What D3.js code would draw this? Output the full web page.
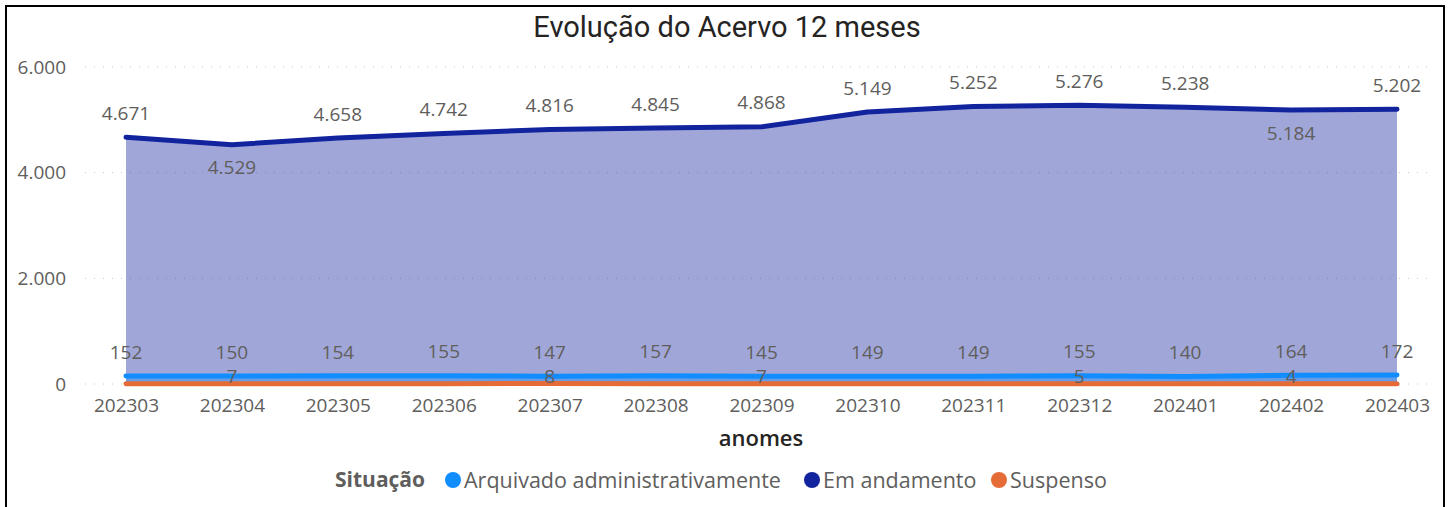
<!DOCTYPE html>
<html lang="pt">
<head>
    <meta charset="UTF-8">
    <title>Evolução do Acervo 12 meses</title>
    <style>
        body { margin: 0; background: #fff; }
        svg { display: block; }
        .tick-label { font-family: "Open Sans", "Noto Sans", sans-serif; font-size: 19px; fill: #605E5C; }
        .data-label { font-family: "Open Sans", "Noto Sans", sans-serif; font-size: 19px; fill: #605E5C; }
    </style>
</head>
<body>
<svg id="chart" width="1453" height="507"></svg>

<script src="https://d3js.org/d3.v7.min.js"></script>
<script>
    // data
    const months = ["202303", "202304", "202305", "202306", "202307", "202308", "202309",
                    "202310", "202311", "202312", "202401", "202402", "202403"];
    const emAndamento = [4671, 4529, 4658, 4742, 4816, 4845, 4868, 5149, 5252, 5276, 5238, 5184, 5202];
    const arquivado = [152, 150, 154, 155, 147, 157, 145, 149, 149, 155, 140, 164, 172];
    const suspenso = [6, 7, 6, 6, 8, 6, 7, 6, 6, 5, 5, 4, 5];
    // which suspenso labels are visible in the original
    const suspensoShown = [false, true, false, false, true, false, true, false, false, true, false, true, false];
    // em andamento labels placed under the line
    const emBelow = [false, true, false, false, false, false, false, false, false, false, false, true, false];
    const yTicks = [0, 2000, 4000, 6000];
    const legendNames = ["Arquivado administrativamente", "Em andamento", "Suspenso"];
    const colors = ["#118DFF", "#12239E", "#E66C37"];

    const ptBR = d3.formatLocale({decimal: ",", thousands: ".", grouping: [3], currency: ["R$", ""]});
    const fmt = ptBR.format(",d");

    const svg = d3.select("#chart");

    // frame
    svg.append("rect")
        .attr("x", 6).attr("y", 6)
        .attr("width", 1438).attr("height", 520)
        .attr("fill", "none").attr("stroke", "#000").attr("stroke-width", 2);

    svg.append("text")
        .attr("x", 727).attr("y", 37)
        .attr("text-anchor", "middle")
        .attr("font-family", "Roboto, 'DejaVu Sans', sans-serif")
        .attr("font-size", 29)
        .attr("fill", "#252423")
        .text("Evolução do Acervo 12 meses");

    const x = d3.scalePoint().domain(months).range([126, 1397]);
    const y = d3.scaleLinear().domain([0, 6000]).range([384, 67]);

    // gridlines
    svg.append("g").selectAll("line")
        .data(yTicks)
        .join("line")
        .attr("x1", 85).attr("x2", 1434)
        .attr("y1", d => y(d)).attr("y2", d => y(d))
        .attr("stroke", "#C8C6C4")
        .attr("stroke-width", 1)
        .attr("stroke-dasharray", "1,8");

    // y axis labels
    const yAxis = svg.append("g")
        .attr("transform", "translate(72,0)")
        .call(d3.axisLeft(y).tickValues(yTicks).tickFormat(fmt).tickSize(0).tickPadding(6));
    yAxis.select(".domain").remove();
    yAxis.selectAll("text").attr("class", "tick-label");

    // x axis labels
    const xAxis = svg.append("g")
        .attr("transform", "translate(0,398)")
        .call(d3.axisBottom(x).tickSize(0).tickPadding(0));
    xAxis.select(".domain").remove();
    xAxis.selectAll("text").attr("class", "tick-label").attr("dy", "0.71em");

    svg.append("text")
        .attr("x", 761).attr("y", 446)
        .attr("text-anchor", "middle")
        .attr("font-family", "'Open Sans', 'Noto Sans', sans-serif")
        .attr("font-size", 22)
        .attr("font-weight", 600)
        .attr("fill", "#252423")
        .text("anomes");

    const seriesList = [arquivado, emAndamento, suspenso];

    const area = d3.area()
        .x((d, i) => x(months[i]))
        .y0(y(0))
        .y1(d => y(d));
    const line = d3.line()
        .x((d, i) => x(months[i]))
        .y(d => y(d));

    // areas first (em andamento is the big one)
    [1, 0, 2].forEach(k => {
        svg.append("path")
            .datum(seriesList[k])
            .attr("d", area)
            .attr("fill", colors[k])
            .attr("fill-opacity", 0.4);
    });
    [1, 0, 2].forEach(k => {
        svg.append("path")
            .datum(seriesList[k])
            .attr("d", line)
            .attr("fill", "none")
            .attr("stroke", colors[k])
            .attr("stroke-width", 5)
            .attr("stroke-linejoin", "round")
            .attr("stroke-linecap", "round");
    });

    // data labels
    svg.append("g").selectAll("text")
        .data(emAndamento)
        .join("text")
        .attr("class", "data-label")
        .attr("text-anchor", "middle")
        .attr("x", (d, i) => x(months[i]))
        .attr("y", (d, i) => emBelow[i] ? y(d) + 23 : y(d) - 24)
        .attr("dy", "0.35em")
        .text(d => fmt(d));

    svg.append("g").selectAll("text")
        .data(arquivado)
        .join("text")
        .attr("class", "data-label")
        .attr("text-anchor", "middle")
        .attr("x", (d, i) => x(months[i]))
        .attr("y", d => y(d) - 24)
        .attr("dy", "0.35em")
        .text(d => fmt(d));

    svg.append("g").selectAll("text")
        .data(suspenso.map((v, i) => ({v, i})).filter(d => suspensoShown[d.i]))
        .join("text")
        .attr("class", "data-label")
        .attr("text-anchor", "middle")
        .attr("x", d => x(months[d.i]))
        .attr("y", d => y(d.v) - 7)
        .attr("dy", "0.35em")
        .text(d => fmt(d.v));

    // legend
    const legend = svg.append("g").attr("transform", "translate(0,480)");
    legend.append("text")
        .attr("x", 335).attr("dy", "0.35em")
        .attr("font-family", "'Open Sans', 'Noto Sans', sans-serif")
        .attr("font-size", 21)
        .attr("font-weight", "bold")
        .attr("fill", "#605E5C")
        .text("Situação");
    const legendX = [453, 812, 999];
    legendNames.forEach((name, k) => {
        legend.append("circle")
            .attr("cx", legendX[k]).attr("cy", 0).attr("r", 8)
            .attr("fill", colors[k]);
        legend.append("text")
            .attr("x", legendX[k] + 11).attr("dy", "0.35em")
            .attr("font-family", "'Open Sans', 'Noto Sans', sans-serif")
            .attr("font-size", 21.5)
            .attr("fill", "#605E5C")
            .text(name);
    });
</script>
</body>
</html>
